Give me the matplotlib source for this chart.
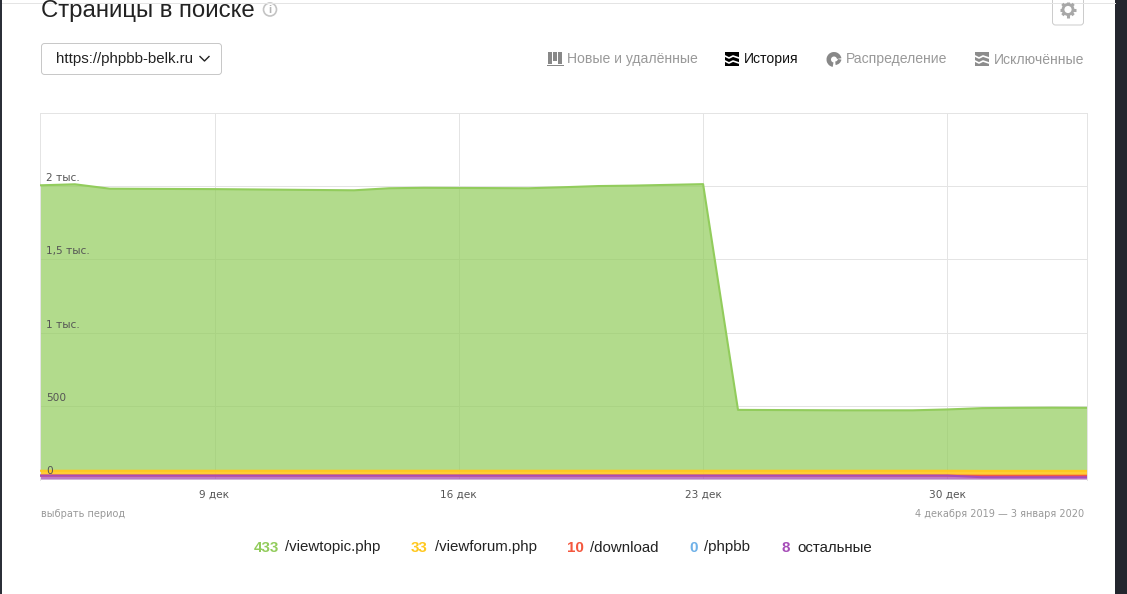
"""Yandex Webmaster style chart: pages in search, stacked by URL section."""

import matplotlib

matplotlib.use("Agg")

import matplotlib.pyplot as plt
import numpy as np
import pandas as pd
from matplotlib.patches import Circle, FancyBboxPatch, Rectangle, Wedge

plt.rcParams["font.family"] = ["Liberation Sans", "DejaVu Sans"]

W, H = 1127, 594

dates = pd.date_range("2019-12-04", "2020-01-03", freq="D")

viewtopic = [1946, 1953, 1923, 1922, 1921, 1920, 1918, 1916, 1914, 1912, 1926,
             1929, 1928, 1927, 1926, 1933, 1941, 1944, 1949, 1954, 415, 414,
             413, 412, 412, 412, 418, 428, 430, 431, 430]
viewforum = [33] * 31
download = [0] * 27 + [10, 10, 10, 10]
phpbb = [0] * 31
other = [26] * 27 + [15, 15, 15, 15]

# stacked from the bottom up
stack = [other, phpbb, download, viewforum, viewtopic]
stack_colors = ["#a64db8", "#6fb1e8", "#f4583f", "#ffc81f", "#92cc5c"]
stack_alpha = [0.75, 0.75, 0.85, 0.9, 0.7]

y_ticks = [0, 500, 1000, 1500, 2000]
y_labels = ["0", "500", "1 тыс.", "1,5 тыс.", "2 тыс."]
x_ticks = pd.to_datetime(["2019-12-09", "2019-12-16", "2019-12-23", "2019-12-30"])
x_labels = ["9 дек", "16 дек", "23 дек", "30 дек"]

legend_values = ["433", "33", "10", "0", "8"]
legend_names = ["/viewtopic.php", "/viewforum.php", "/download", "/phpbb", "остальные"]
legend_colors = ["#92cc5c", "#ffc81f", "#f4583f", "#6fb1e8", "#a64db8"]
legend_value_x = [254, 411, 567, 689, 781]
legend_name_x = [285, 435, 590, 704, 797]

tabs = ["Новые и удалённые", "История", "Распределение", "Исключённые"]
tab_x = [567, 744, 846, 994]
tab_colors = ["#999999", "#111111", "#999999", "#999999"]

HAIR = 0.72  # one screen pixel in points

fig = plt.figure(figsize=(W / 100, H / 100), dpi=100, facecolor="white")

# page furniture is laid out in screen pixels
page = fig.add_axes([0, 0, 1, 1], zorder=0)
page.set_xlim(0, W)
page.set_ylim(H, 0)
page.axis("off")

page.add_patch(Rectangle((0, 0), 2, H, color="#2b2f38", lw=0))
page.add_patch(Rectangle((1115, 0), 12, H, color="#23262e", lw=0))
page.plot([2, 1115], [2.5, 2.5], color="#e4e4e4", lw=HAIR)

page.text(41, 17, "Страницы в поиске", fontsize=17.25, color="#222222", va="baseline")
page.add_patch(Circle((270, 9.5), 6.5, fc="white", ec="#c4c4c4", lw=1.2))
page.text(270, 10, "i", fontsize=8, color="#b5b5b5", ha="center", va="center", weight="bold")

# gear button
page.add_patch(FancyBboxPatch((1052.5, -8), 31, 33, boxstyle="round,pad=0,rounding_size=3",
                              fc="white", ec="#cccccc", lw=HAIR))
for angle in np.arange(0, np.pi, np.pi / 4):
    dx, dy = 8 * np.cos(angle), 8 * np.sin(angle)
    page.plot([1068 - dx, 1068 + dx], [9.5 - dy, 9.5 + dy], color="#a8a8a8", lw=2.2,
              solid_capstyle="butt")
page.add_patch(Circle((1068, 9.5), 5, fc="white", ec="#a8a8a8", lw=2, zorder=3))

# site selector
page.add_patch(FancyBboxPatch((41.5, 43.5), 180, 31, boxstyle="round,pad=0,rounding_size=3",
                              fc="white", ec="#c8c8c8", lw=HAIR))
page.text(56, 59.5, "https://phpbb-belk.ru", fontsize=10.8, color="#222222", va="center")
page.plot([200, 204.5, 209], [56.5, 61, 56.5], color="#222222", lw=1)

# tabs
for label, x, color in zip(tabs, tab_x, tab_colors):
    page.text(x, 59.5, label, fontsize=10.05, color=color, va="center")

for bx, bh in zip([548, 553, 558], [12, 9, 12]):
    page.add_patch(Rectangle((bx, 52), 4, bh, color="#888888", lw=0))
page.add_patch(Rectangle((547, 64.5), 17, 1.8, color="#888888", lw=0))

for ix, color in [(725, "#000000"), (975, "#8c8c8c")]:
    page.add_patch(Rectangle((ix, 52), 14, 14, color=color, lw=0))
    for iy in [56, 61]:
        page.plot([ix, ix + 4, ix + 8, ix + 14], [iy, iy + 2, iy, iy + 2], color="white", lw=1.2)

page.add_patch(Wedge((834, 59.5), 7.5, 100, 350, width=4.5, color="#888888", lw=0))
page.add_patch(Wedge((835, 58.5), 6.5, 10, 85, width=3.5, color="#888888", lw=0))

# captions under the chart
page.text(41, 514, "выбрать период", fontsize=7.0, color="#999999", va="center", family="DejaVu Sans")
page.text(1084, 514, "4 декабря 2019 — 3 января 2020", fontsize=7.0, color="#999999",
          va="center", ha="right", family="DejaVu Sans")

for val, name, color, vx, nx in zip(legend_values, legend_names, legend_colors,
                                    legend_value_x, legend_name_x):
    page.text(vx, 547.5, val, fontsize=10.9, color=color, weight="bold", va="center")
    page.text(nx, 547.5, name, fontsize=10.8, color="#222222", va="center")

# chart
ax = fig.add_axes([40 / W, 1 - 480 / H, (1087 - 40) / W, (480 - 113) / H], zorder=1)
ax.set_facecolor("none")
ax.set_xlim(dates[0], dates[-1])
ax.set_ylim(-4, 2498)

ax.set_axisbelow(True)
ax.grid(True, color="#e4e4e4", lw=HAIR)
for side in ["top", "left", "right"]:
    ax.spines[side].set_color("#e4e4e4")
    ax.spines[side].set_linewidth(HAIR)
ax.spines["bottom"].set_visible(False)

bands = ax.stackplot(dates, stack, colors=stack_colors, lw=0)
for band, alpha in zip(bands, stack_alpha):
    band.set_alpha(alpha)

tops = np.cumsum(np.array(stack), axis=0)
# top edges are drawn from the top down so the lower series stays visible
for series, top, color in list(zip(stack, tops, stack_colors))[::-1]:
    if max(series) > 0:
        ax.plot(dates, top, color=color, lw=1.5, zorder=3)

# value labels sit inside the plot, over the fill
ax.set_yticks(y_ticks)
ax.tick_params(axis="y", length=0, labelleft=False)
for tick, label in zip(y_ticks, y_labels):
    ax.annotate(label, xy=(0, tick), xycoords=ax.get_yaxis_transform(), xytext=(6, 5),
                textcoords="offset pixels", fontsize=7.6, color="#555555",
                family="DejaVu Sans", va="baseline", zorder=5)

ax.set_xticks(x_ticks)
ax.set_xticklabels(x_labels, fontsize=7.6, color="#555555", family="DejaVu Sans")
ax.tick_params(axis="x", length=0, pad=7)

fig.savefig("out.png", dpi=100)
